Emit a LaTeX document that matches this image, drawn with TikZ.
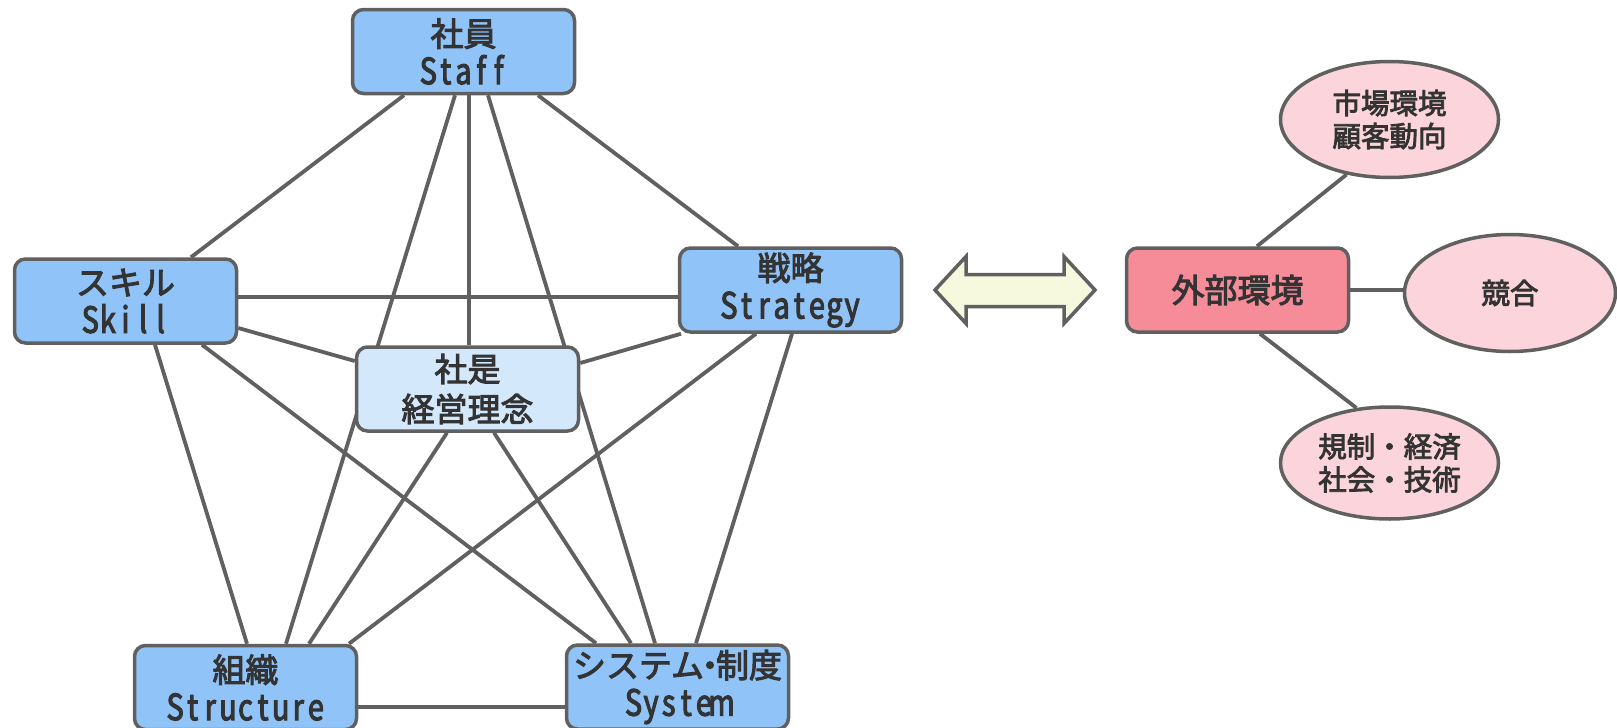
\documentclass[tikz,border=0pt]{standalone}
\usepackage{fontspec}
\setmainfont[FakeBold=3]{Noto Sans CJK JP}
\newfontfamily\latn[FakeStretch=0.8, FakeBold=3]{Noto Sans CJK JP}
\usetikzlibrary{backgrounds,shapes.geometric}

\definecolor{edge}{HTML}{606060}
\definecolor{ink}{HTML}{333333}
\definecolor{elemblue}{HTML}{90C4F8}
\definecolor{coreblue}{HTML}{D4E8FC}
\definecolor{envpink}{HTML}{F58C98}
\definecolor{factorpink}{HTML}{FBD5DB}
\definecolor{arrowcream}{HTML}{F6F9DE}

% Latin words set in fixed-width cells
\ExplSyntaxOn
\NewDocumentCommand\mono{m}{{\latn\fontsize{36}{38}\selectfont\tl_map_inline:nn{#1}{\makebox[17.6pt][c]{##1}}}}
\ExplSyntaxOff

\tikzset{
  element/.style={draw=edge, line width=3.5pt, rounded corners=11pt, fill=elemblue,
    minimum width=222pt, minimum height=84pt, inner sep=0pt, align=center,
    text=ink, font=\fontsize{33}{38}\selectfont},
  corebox/.style={element, fill=coreblue, font=\fontsize{33}{40}\selectfont},
  envbox/.style={element, fill=envpink},
  factor/.style={ellipse, draw=edge, line width=3.5pt, fill=factorpink,
    minimum width=218pt, minimum height=116pt, inner sep=0pt, align=center,
    text=ink, font=\fontsize{28.5}{33}\selectfont},
  link/.style={draw=edge, line width=3.8pt},
}

\begin{document}
\begin{tikzpicture}[x=1pt, y=-1pt]
\useasboundingbox (0,0) rectangle (1617,728);

% the seven elements
\node[element] (staff)     at (463.5,51.5) {社員\\\mono{Staff}};
\node[element] (skill)     at (125.5,301)  {スキル\\\mono{Skill}};
\node[element] (strategy)  at (790.5,290)  {戦略\\\mono{Strategy}};
\node[corebox] (core)      at (467.5,389)  {社是\\経営理念};
\node[element] (structure) at (245.5,687.5) {組織\\\mono{Structure}};
\node[element] (system)    at (677.5,687)  {システム\makebox[12pt]{・}制度\\\mono{System}};

% external environment
\node[envbox] (env) at (1237.5,290) {外部環境};
\node[factor] (market) at (1389.5,119.5) {市場環境\\顧客動向};
\node[factor, minimum width=211pt, minimum height=117pt] (rival) at (1510,293) {競合};
\node[factor, minimum height=112pt] (macro) at (1389.5,463) {規制・経済\\社会・技術};

% two-way arrow between the model and its environment
\draw[draw=edge, fill=arrowcream, line width=3.5pt, line join=miter]
  (935,290) -- (966,256.5) -- (966,274.5) -- (1064,274.5) -- (1064,256.5)
  -- (1095,290) -- (1064,323.5) -- (1064,306.5) -- (966,306.5) -- (966,323.5) -- cycle;

\begin{scope}[on background layer]
  % links from Staff
  \draw[link] ([xshift=-59.5pt]staff.south) -- ([xshift=65.5pt]skill.north);
  \draw[link] ([xshift=-8.5pt]staff.south) -- ([xshift=40.5pt]structure.north);
  \draw[link] ([xshift=5.5pt]staff.south) -- ([xshift=1.5pt]core.north);
  \draw[link] ([xshift=24.5pt]staff.south) -- ([xshift=-22.5pt]system.north);
  \draw[link] ([xshift=74.5pt]staff.south) -- ([xshift=-52.5pt]strategy.north);
  % links from Skill
  \draw[link] ([yshift=4pt]skill.east) -- ([yshift=-7pt]strategy.west);
  \draw[link] ([yshift=-27pt]skill.east) -- ([yshift=28pt]core.west);
  \draw[link] ([xshift=29.5pt]skill.south) -- ([xshift=1.5pt]structure.north);
  \draw[link] ([xshift=76.5pt]skill.south) -- ([xshift=-81.5pt]system.north);
  % links from Strategy
  \draw[link] ([xshift=-109.5pt]strategy.south) -- ([yshift=26pt]core.east);
  \draw[link] ([xshift=-34.5pt]strategy.south) -- ([xshift=103.5pt]structure.north);
  \draw[link] ([xshift=1.5pt]strategy.south) -- ([xshift=18.5pt]system.north);
  % links from the shared values
  \draw[link] ([xshift=-20.5pt]core.south) -- ([xshift=63.5pt]structure.north);
  \draw[link] ([xshift=26.5pt]core.south) -- ([xshift=-46.5pt]system.north);
  % Structure to System
  \draw[link] ([yshift=-19.5pt]structure.east) -- ([yshift=-20pt]system.west);
  % environment factors
  \draw[link] ([xshift=19.5pt]env.north) -- (market.232);
  \draw[link] (env.east) -- (env.east -| rival.west);
  \draw[link] ([xshift=22.5pt]env.south) -- (macro.121);
\end{scope}
\end{tikzpicture}
\end{document}
